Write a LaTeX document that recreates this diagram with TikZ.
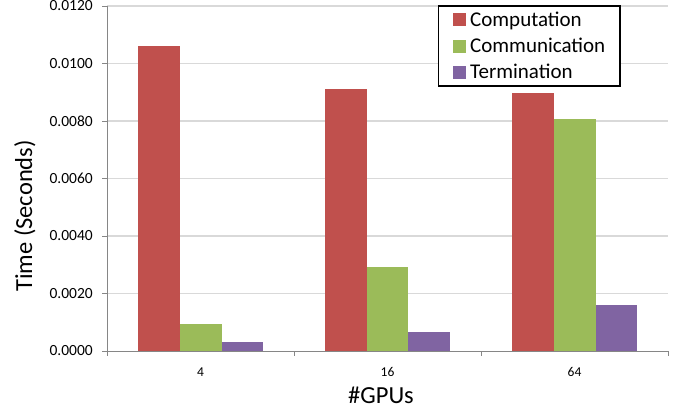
\documentclass[tikz,border=0pt]{standalone}
\usepackage{fontspec}
\setmainfont{Carlito}
\definecolor{compred}{HTML}{C0504D}
\definecolor{commgreen}{HTML}{9BBB59}
\definecolor{termpurple}{HTML}{8064A2}
\definecolor{gridgray}{HTML}{D9D9D9}
\definecolor{axisgray}{HTML}{868686}
\begin{document}
\begin{tikzpicture}[x=1pt,y=-1pt,
  gridline/.style={draw=gridgray,line width=1.2pt},
  axisline/.style={draw=axisgray,line width=1pt},
  ticklabel/.style={font=\fontsize{15.5}{16}\selectfont,anchor=east,inner sep=0pt},
  catlabel/.style={font=\fontsize{13.5}{14}\selectfont,anchor=base,inner sep=0pt},
  axistitle/.style={font=\fontsize{24.5}{26}\selectfont,anchor=base,inner sep=0pt},
  legendtext/.style={font=\fontsize{21}{22}\selectfont,anchor=base west,inner sep=0pt},
  legendkey/.style={minimum size=13pt,inner sep=0pt,anchor=center}]
\useasboundingbox (0,0) rectangle (681,408);

% gridlines, y ticks and their labels (0.0020 every 57.5 units)
\foreach \v [count=\i from 0] in {0.0000,0.0020,0.0040,0.0060,0.0080,0.0100,0.0120}{
  \pgfmathsetmacro{\yy}{351-57.5*\i}
  \ifnum\i>0
    \draw[gridline] (107,\yy) -- (668,\yy);
  \fi
  \draw[axisline] (102,\yy) -- (107,\yy);
  \node[ticklabel] (ytick\i) at (93,\yy) {\v};
}

% bars: height given in units of 0.0001 s, 2.875 units each
\newcommand{\chartbar}[3]{%
  \fill[#3] (#1,351) rectangle ({#1+41.7},{351-2.875*#2});}
\chartbar{138.3}{106.1}{compred}
\chartbar{180.0}{9.4}{commgreen}
\chartbar{221.7}{3.1}{termpurple}
\chartbar{325.0}{91.1}{compred}
\chartbar{366.7}{29.1}{commgreen}
\chartbar{408.4}{6.5}{termpurple}
\chartbar{512.3}{89.6}{compred}
\chartbar{554.0}{80.7}{commgreen}
\chartbar{595.7}{16.0}{termpurple}

% axes
\draw[axisline] (107,6) -- (107,351);
\draw[axisline] (107,351) -- (668,351);
\foreach \xx in {107,294,481,668}
  \draw[axisline] (\xx,351) -- (\xx,356);

% category labels
\node[catlabel] (cat4)  at (200.5,376.5) {4};
\node[catlabel] (cat16) at (387.5,376.5) {16};
\node[catlabel] (cat64) at (574.5,376.5) {64};

% axis titles
\node[axistitle] (xtitle) at (381,403) {\#GPUs};
\node[axistitle,rotate=90] (ytitle) at (32,216) {Time (Seconds)};

% legend
\draw[fill=white,draw=black,line width=1.2pt] (438.3,6) rectangle (620,86);
\node[legendkey,fill=compred]    (key1) at (459,19.5) {};
\node[legendkey,fill=commgreen]  (key2) at (459,46) {};
\node[legendkey,fill=termpurple] (key3) at (459,72) {};
\node[legendtext] (lab1) at (470,26.7) {Computation};
\node[legendtext] (lab2) at (470,52.7) {Communication};
\node[legendtext] (lab3) at (470,78.3) {Termination};
\end{tikzpicture}
\end{document}
